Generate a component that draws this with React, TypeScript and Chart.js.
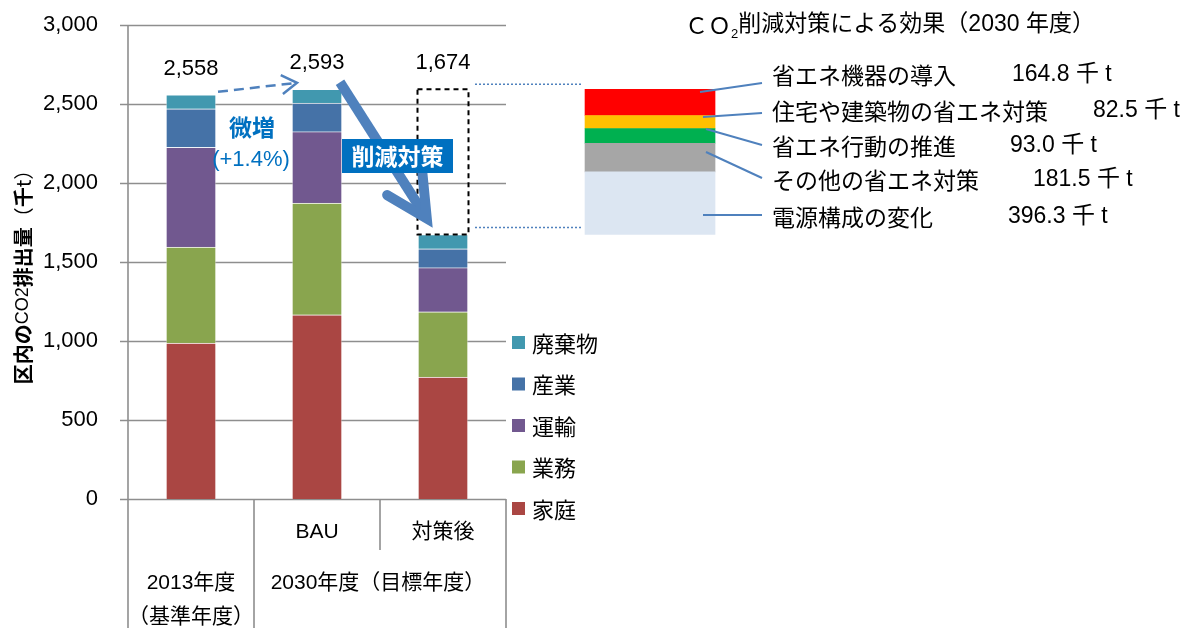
import React, { useEffect, useRef } from 'react';
import { Chart, registerables } from 'chart.js';

Chart.register(...registerables);

// ---------- data ----------
const categories = ['2013年度', 'BAU', '対策後'];
const subLabels = ['', 'BAU', '対策後'];
const baseYearLabel = ['2013年度', '（基準年度）'];
const targetYearLabel = '2030年度（目標年度）';

const sectorNames = ['家庭', '業務', '運輸', '産業', '廃棄物'];
const katei = [987, 1166, 772];
const gyomu = [608, 707, 413];
const unyu = [631, 452, 279];
const sangyo = [244, 181, 120];
const haikibutsu = [88, 87, 90];

const effectTitle = ['ＣＯ', '2', '削減対策による効果（2030 年度）'];
const effectLabels = ['省エネ機器の導入', '住宅や建築物の省エネ対策', '省エネ行動の推進', 'その他の省エネ対策', '電源構成の変化'];
const effectValues = [164.8, 82.5, 93.0, 181.5, 396.3];

const yTickStep = 500;
const yMax = 3000;

// ---------- styles / positions ----------
const W = 1203;
const H = 628;
const FONT_LATIN = "'Liberation Sans', 'Noto Sans CJK JP', sans-serif";
const FONT_CJK = "'Noto Sans CJK JP', sans-serif";
const sectorColors = ['#aa4643', '#89a54e', '#71588f', '#4572a7', '#4198af'];
const effectColors = ['#ff0000', '#ffc000', '#00b050', '#a6a6a6', '#dce6f2'];
const GRID = '#8e8e8e';
const ARROW = '#4f81bd';
const BLUE_TXT = '#0070c0';
const BLOCK_X = 3.643;
const TOP_PAD = 25;
const effectRowY = [75, 111, 146, 180, 217];
const effectValueX = [1012, 1093, 1010, 1033, 1008];
const connectorStart = [[700, 92], [703, 117], [706, 129], [706, 152], [703, 215]];
const connectorEnd = [[762, 83], [762, 113], [762, 145], [762, 178], [762, 215]];

const seriesArrays = [katei, gyomu, unyu, sangyo, haikibutsu];
const totals = categories.map((_, i) => seriesArrays.reduce((s, a) => s + a[i], 0));
const fmt = (v: number) => Math.round(v).toString().replace(/\B(?=(\d{3})+(?!\d))/g, ',');

function chevron(ctx: CanvasRenderingContext2D, tx: number, ty: number, fx: number, fy: number, len: number, deg: number) {
  const a = Math.atan2(fy - ty, fx - tx);
  const r = (deg * Math.PI) / 180;
  ctx.beginPath();
  ctx.moveTo(tx + len * Math.cos(a + r), ty + len * Math.sin(a + r));
  ctx.lineTo(tx, ty);
  ctx.lineTo(tx + len * Math.cos(a - r), ty + len * Math.sin(a - r));
  ctx.stroke();
}

const decorPlugin = {
  id: 'decor',
  beforeDatasetsDraw(chart: any) {
    const ctx: CanvasRenderingContext2D = chart.ctx;
    const x = chart.scales.x;
    const y = chart.scales.y;
    const px = (v: number) => x.getPixelForValue(v);
    const py = (v: number) => y.getPixelForValue(v);
    ctx.save();
    ctx.strokeStyle = GRID;
    ctx.lineWidth = 1.3;
    for (const t of y.ticks) {
      const yy = Math.round(py(t.value)) + 0.5;
      ctx.beginPath();
      ctx.moveTo(px(-0.5) - 8, yy);
      ctx.lineTo(px(2.5), yy);
      ctx.stroke();
    }
    ctx.lineWidth = 1.6;
    const x0 = px(-0.5);
    ctx.beginPath();
    ctx.moveTo(x0, py(yMax));
    ctx.lineTo(x0, H);
    ctx.stroke();
    ctx.beginPath();
    ctx.moveTo(px(0.5), py(0));
    ctx.lineTo(px(0.5), H);
    ctx.moveTo(px(2.5), py(0));
    ctx.lineTo(px(2.5), H);
    ctx.moveTo(px(1.5), py(0));
    ctx.lineTo(px(1.5), py(0) + 51);
    ctx.stroke();
    ctx.restore();
  },
  afterDraw(chart: any) {
    const ctx: CanvasRenderingContext2D = chart.ctx;
    const x = chart.scales.x;
    const y = chart.scales.y;
    const px = (v: number) => x.getPixelForValue(v);
    const py = (v: number) => y.getPixelForValue(v);
    const y0 = py(0);
    ctx.save();
    ctx.textBaseline = 'middle';
    ctx.textAlign = 'center';
    ctx.fillStyle = '#000';

    // x category labels
    ctx.font = `21px ${FONT_LATIN}`;
    ctx.fillText(subLabels[1], px(1), y0 + 33);
    ctx.fillText(subLabels[2], px(2), y0 + 33);
    ctx.fillText(baseYearLabel[0], px(0), y0 + 84);
    ctx.fillText(baseYearLabel[1], px(0), y0 + 118);
    ctx.fillText(targetYearLabel, px(1.5) - 2, y0 + 84);

    // total labels
    ctx.font = `22px ${FONT_LATIN}`;
    totals.forEach((t, i) => {
      const anchor = i === 2 ? Math.max(t, totals[1]) : t;
      ctx.fillText(fmt(t), px(i), py(anchor) - 26);
    });

    // y axis title
    const segs = [
      { t: '区内の', f: `bold 20px ${FONT_CJK}` },
      { t: 'CO2', f: `18px ${FONT_LATIN}` },
      { t: '排出量', f: `bold 20px ${FONT_CJK}` },
      { t: '（', f: `20px ${FONT_CJK}` },
      { t: '千', f: `bold 20px ${FONT_CJK}` },
      { t: 't）', f: `20px ${FONT_CJK}` },
    ];
    let tot = 0;
    const ws = segs.map((s) => { ctx.font = s.f; const w = ctx.measureText(s.t).width; tot += w; return w; });
    ctx.save();
    ctx.translate(23, 272);
    ctx.rotate(-Math.PI / 2);
    ctx.textAlign = 'left';
    let cx = -tot / 2;
    segs.forEach((s, i) => { ctx.font = s.f; ctx.fillText(s.t, cx, 0); cx += ws[i]; });
    ctx.restore();

    // legend
    const metas = [0, 1, 2, 3, 4].reverse();
    ctx.textAlign = 'left';
    ctx.font = `22px ${FONT_CJK}`;
    metas.forEach((di, row) => {
      const ds = chart.data.datasets[di];
      const cy = 342.5 + row * 41.5;
      ctx.fillStyle = ds.backgroundColor;
      ctx.fillRect(512, cy - 6.5, 13, 13);
      ctx.fillStyle = '#000';
      ctx.fillText(ds.label, 532, cy + 1);
    });

    // dashed box around reduced part
    const bx0 = px(2) - 25.5;
    const bx1 = px(2) + 25.5;
    ctx.strokeStyle = '#000';
    ctx.lineWidth = 2;
    ctx.setLineDash([5, 4]);
    ctx.strokeRect(bx0, py(totals[1]), bx1 - bx0, py(totals[2]) - py(totals[1]));

    // dotted guide lines
    ctx.strokeStyle = ARROW;
    ctx.lineWidth = 1.5;
    ctx.setLineDash([2, 2]);
    ctx.beginPath();
    ctx.moveTo(475, py(totals[1]) - 5);
    ctx.lineTo(581, py(totals[1]) - 5);
    ctx.moveTo(475, py(totals[2]) - 7);
    ctx.lineTo(581, py(totals[2]) - 7);
    ctx.stroke();

    // small dashed arrow (微増)
    const sx0 = px(0) + 27, sy0 = py(totals[0]) - 3;
    const sx1 = px(1) - 20, sy1 = py(totals[1]) - 6.5;
    ctx.lineWidth = 2.5;
    ctx.setLineDash([10, 6]);
    ctx.beginPath();
    ctx.moveTo(sx0, sy0);
    ctx.lineTo(sx1 - 3, sy1 + 0.3);
    ctx.stroke();
    ctx.setLineDash([]);
    chevron(ctx, sx1, sy1, sx0, sy0, 18, 32);

    ctx.fillStyle = BLUE_TXT;
    ctx.textAlign = 'center';
    ctx.font = `bold 23px ${FONT_CJK}`;
    ctx.fillText('微増', 252, 127);
    const pct = ((totals[1] / totals[0] - 1) * 100).toFixed(1);
    ctx.font = `22px ${FONT_LATIN}`;
    ctx.fillText(`(+${pct}%)`, 251, 160);

    // big arrow
    const ax0 = px(1) + 23, ay0 = py(totals[1]) - 7;
    const ax1 = px(2) - 13, ay1 = py(totals[2]) - 11;
    const len = Math.hypot(ax1 - ax0, ay1 - ay0);
    const ux = (ax1 - ax0) / len, uy = (ay1 - ay0) / len;
    ctx.strokeStyle = ARROW;
    ctx.lineWidth = 10;
    ctx.lineCap = 'butt';
    ctx.beginPath();
    ctx.moveTo(ax0, ay0);
    ctx.lineTo(ax1 - ux * 8, ay1 - uy * 8);
    ctx.stroke();
    ctx.lineCap = 'round';
    ctx.lineJoin = 'miter';
    chevron(ctx, ax1 - ux * 6, ay1 - uy * 6, ax0, ay0, 46, 27);

    // 削減対策 label
    ctx.fillStyle = BLUE_TXT;
    ctx.fillRect(342, 139, 111, 34);
    ctx.fillStyle = '#fff';
    ctx.font = `bold 23px ${FONT_CJK}`;
    ctx.fillText('削減対策', 397.5, 156.5);

    // effect title
    ctx.fillStyle = '#000';
    ctx.textAlign = 'left';
    const tf1 = `23px ${FONT_CJK}`;
    const tf2 = `13px ${FONT_LATIN}`;
    const tf3 = `23px ${FONT_LATIN}`;
    ctx.font = tf1; const w1 = ctx.measureText(effectTitle[0]).width;
    ctx.font = tf2; const w2 = ctx.measureText(effectTitle[1]).width;
    ctx.font = tf3; const w3 = ctx.measureText(effectTitle[2]).width;
    let tx = 890 - (w1 + w2 + w3) / 2;
    ctx.font = tf1; ctx.fillText(effectTitle[0], tx, 25); tx += w1;
    ctx.font = tf2; ctx.fillText(effectTitle[1], tx, 34); tx += w2;
    ctx.font = tf3; ctx.fillText(effectTitle[2], tx, 25);

    // effect labels and connectors
    ctx.strokeStyle = ARROW;
    ctx.lineWidth = 2;
    ctx.lineCap = 'butt';
    effectLabels.forEach((lab, i) => {
      ctx.beginPath();
      ctx.moveTo(connectorStart[i][0], connectorStart[i][1]);
      ctx.lineTo(connectorEnd[i][0], connectorEnd[i][1]);
      ctx.stroke();
      ctx.font = `23px ${FONT_CJK}`;
      ctx.fillText(lab, 772, effectRowY[i]);
      ctx.font = `23px ${FONT_LATIN}`;
      ctx.fillText(`${effectValues[i].toFixed(1)} 千 t`, effectValueX[i], effectRowY[i]);
    });

    ctx.restore();
  },
};

export default function App() {
  const ref = useRef<HTMLCanvasElement>(null);
  useEffect(() => {
    if (!ref.current) return;
    const mainSets = sectorNames.map((name, si) => ({
      label: name,
      data: seriesArrays[si].map((v, i) => ({ x: i, y: v })),
      backgroundColor: sectorColors[si],
      borderColor: 'rgba(255,255,255,0.35)',
      borderWidth: 1,
      barThickness: 50,
      stack: 's',
    }));
    const effectBottomUp = effectValues.map((v, i) => ({ v, i })).reverse();
    const blockSets = [
      {
        label: 'base',
        data: [{ x: BLOCK_X, y: totals[2] }],
        backgroundColor: 'rgba(0,0,0,0)',
        borderWidth: 0,
        barThickness: 130,
        stack: 's',
      },
      ...effectBottomUp.map(({ v, i }) => ({
        label: effectLabels[i],
        data: [{ x: BLOCK_X, y: v }],
        backgroundColor: effectColors[i],
        borderWidth: 0,
        barThickness: 130,
        stack: 's',
      })),
    ];
    const chart = new Chart(ref.current, {
      type: 'bar',
      data: { datasets: [...mainSets, ...blockSets] as any },
      options: {
        responsive: false,
        animation: false,
        devicePixelRatio: 1,
        layout: { padding: { left: 0, right: W - 758, top: TOP_PAD, bottom: H - 499 } },
        plugins: { legend: { display: false }, tooltip: { enabled: false } },
        scales: {
          x: {
            type: 'linear',
            min: -0.5,
            max: 4.5,
            stacked: true,
            offset: false,
            display: false,
          },
          y: {
            type: 'linear',
            min: 0,
            max: yMax,
            stacked: true,
            grid: { display: false, drawTicks: true, tickLength: 30 },
            border: { display: false },
            ticks: {
              stepSize: yTickStep,
              padding: 0,
              color: '#000',
              font: { size: 22, family: FONT_LATIN },
              callback: (v: any) => fmt(Number(v)),
            },
            afterFit: (s: any) => { s.width = 128; },
          },
        },
      } as any,
      plugins: [decorPlugin],
    });
    return () => chart.destroy();
  }, []);
  return (
    <div style={{ position: 'absolute', left: 0, top: 0, width: W, height: H, background: '#fff' }}>
      <canvas ref={ref} width={W} height={H} style={{ display: 'block', width: W, height: H }} />
    </div>
  );
}
